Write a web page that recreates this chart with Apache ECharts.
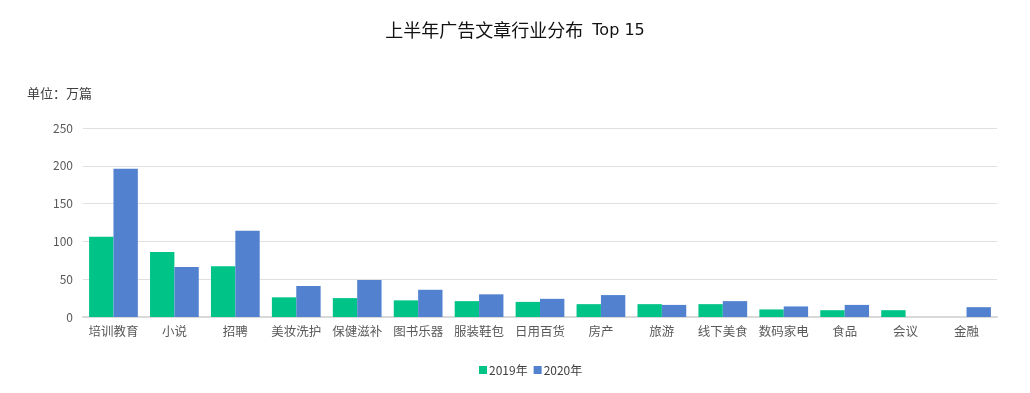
<!DOCTYPE html>
<html><head><meta charset="utf-8">
<script src="https://cdn.jsdelivr.net/npm/echarts@6/dist/echarts.min.js"></script>
<style>html,body{margin:0;padding:0;background:#fff}#c{width:1030px;height:393px}</style>
</head><body><div id="c"></div>
<script>
const categories = ['培训教育','小说','招聘','美妆洗护','保健滋补','图书乐器','服装鞋包','日用百货','房产','旅游','线下美食','数码家电','食品','会议','金融'];
const values2019 = [106, 86, 67, 26, 25, 22, 21, 20, 17, 17, 17, 10, 9, 9, null];
const values2020 = [196, 66, 114, 41, 49, 36, 30, 24, 29, 16, 21, 14, 16, null, 13];
const yTicks = [0, 50, 100, 150, 200, 250];

const chart = echarts.init(document.getElementById('c'), null, {renderer:'canvas'});
const font = '"Noto Sans CJK SC", "Liberation Sans", sans-serif';
chart.setOption({
  animation: false,
  title: {
    text: '{a|上半年广告文章行业分布}{b| Top 15}',
    left: 'center', top: 13,
    textStyle: {
      fontFamily: font, fontSize: 18, fontWeight: 'normal', color: '#111111',
      rich: {
        a: {fontFamily: font, fontSize: 18, color: '#111111', lineHeight: 24, verticalAlign: 'middle'},
        b: {fontFamily: '"DejaVu Sans", sans-serif', fontSize: 16, color: '#111111', lineHeight: 24, verticalAlign: 'middle', padding: [2,0,0,4]}
      }
    }
  },
  graphic: [{
    type: 'text', left: 27, top: 87,
    style: {text: '单位：万篇', font: '13px ' + font, fill: '#404040'}
  }],
  legend: {
    bottom: 12, left: 474, itemWidth: 8, itemHeight: 8, itemGap: 6,
    icon: 'rect',
    textStyle: {fontFamily: font, fontSize: 12, color: '#404040', padding: [0,0,0,-3]},
    data: ['2019年','2020年']
  },
  grid: {left: 83, right: 33, top: 128, bottom: 76},
  xAxis: {
    type: 'category', data: categories,
    axisLine: {lineStyle: {color: '#d9d9d9', width: 2}},
    axisTick: {show: false},
    axisLabel: {fontFamily: font, fontSize: 12.5, color: '#595959', margin: 8, interval: 0}
  },
  yAxis: {
    type: 'value', min: yTicks[0], max: yTicks[yTicks.length-1], interval: 50,
    axisLine: {show: false}, axisTick: {show: false},
    splitLine: {lineStyle: {color: '#e0e0e0', width: 1}},
    axisLabel: {fontFamily: font, fontSize: 12, color: '#595959', margin: 10}
  },
  series: [
    {name: '2019年', type: 'bar', data: values2019, barGap: '0%', barCategoryGap: '20%',
     itemStyle: {color: '#00c487'}},
    {name: '2020年', type: 'bar', data: values2020, barGap: '0%', barCategoryGap: '20%',
     itemStyle: {color: '#5282cf'}}
  ]
});
</script></body></html>
